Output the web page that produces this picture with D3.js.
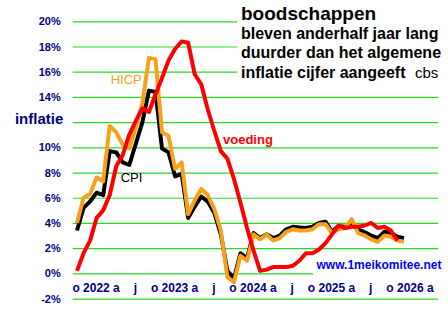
<!DOCTYPE html>
<html lang="nl">
<head>
    <meta charset="UTF-8">
    <title>Boodschappen inflatie</title>
    <script src="https://d3js.org/d3.v7.min.js"></script>
    <style>
        body { margin: 0; background: #fff; }
        text { font-family: "Liberation Sans", Arial, sans-serif; }
    </style>
</head>
<body>
    <div id="chart"></div>
</body>
</html>

<script>
    const width = 448, height = 314;

    // months on the x axis, okt 2021 .. jan 2026
    const months = [
        "2021-10","2021-11","2021-12",
        "2022-01","2022-02","2022-03","2022-04","2022-05","2022-06","2022-07","2022-08","2022-09","2022-10","2022-11","2022-12",
        "2023-01","2023-02","2023-03","2023-04","2023-05","2023-06","2023-07","2023-08","2023-09","2023-10","2023-11","2023-12",
        "2024-01","2024-02","2024-03","2024-04","2024-05","2024-06","2024-07","2024-08","2024-09","2024-10","2024-11","2024-12",
        "2025-01","2025-02","2025-03","2025-04","2025-05","2025-06","2025-07","2025-08","2025-09","2025-10","2025-11","2025-12",
        "2026-01"
    ];

    const cpi = [3.4, 5.2, 5.7, 6.4, 6.2, 9.7, 9.6, 8.8, 8.6, 10.3, 12.0, 14.5, 14.4, 9.9, 9.6,
        7.7, 7.9, 4.4, 5.3, 6.1, 5.7, 4.8, 3.1, 0.2, -0.4, 1.6, 1.2,
        3.2, 2.8, 3.1, 2.8, 3.0, 3.5, 3.7, 3.65, 3.6, 3.7, 4.0, 4.1,
        3.3, 3.75, 3.7, 3.9, 3.5, 3.25, 3.0, 2.8, 3.3, 3.2, 2.9, 2.8];

    const hicp = [4.0, 6.0, 6.3, 7.6, 7.3, 11.7, 11.2, 10.2, 9.9, 11.6, 13.5, 17.1, 17.0, 11.2, 10.9,
        8.3, 8.8, 4.7, 5.8, 6.7, 6.2, 5.1, 3.4, -0.3, -0.7, 1.4, 1.0,
        3.1, 2.7, 3.1, 2.6, 2.8, 3.3, 3.5, 3.4, 3.4, 3.5, 3.9, 3.9,
        3.2, 3.5, 3.6, 4.3, 3.2, 3.0, 2.7, 2.5, 3.0, 2.9, 2.6, 2.5];

    const voeding = [0.2, 1.6, 2.6, 4.4, 5.0, 6.2, 8.5, 9.4, 11.0, 12.1, 13.1, 12.8, 14.2, 15.5, 16.9,
        17.8, 18.4, 18.3, 15.8, 15.0, 13.0, 11.3, 9.7, 9.1, 7.5, 5.6, 3.6,
        1.8, 0.2, 0.3, 0.5, 0.5, 0.5, 0.6, 1.0, 1.6, 1.6, 1.9, 2.4,
        3.1, 3.8, 3.6, 3.7, 3.7, 3.8, 4.0, 3.6, 3.7, 3.4, 2.6];

    const yTicks = [-2, 0, 2, 4, 6, 8, 10, 12, 14, 16, 18, 20];
    const xTickMonths = ["2022-01","2022-07","2023-01","2023-07","2024-01","2024-07","2025-01","2025-07","2026-01"];
    const xTickLabels = ["o 2022 a","j","o 2023 a","j","o 2024 a","j","o 2025 a","j","o 2026 a"];
    const titleLines = ["bleven anderhalf jaar lang", "duurder dan het algemene", "inflatie cijfer aangeeft"];

    const navy = "#000080", green = "#22dd22";

    const svg = d3.select("#chart")
        .append("svg")
            .attr("width", width)
            .attr("height", height);

    svg.append("rect").attr("width", width).attr("height", height).attr("fill", "#fff");

    const xScale = d3.scalePoint()
        .domain(months)
        .range([77, 410.5]);

    const yScale = d3.scaleLinear()
        .domain([-2, 20])
        .range([298.6, 21.3]);

    const plotLeft = 72.7, plotRight = 438;

    // Y axis with green gridlines
    const yAxis = svg.append("g")
        .attr("transform", `translate(${plotLeft}, 0)`)
        .call(d3.axisLeft(yScale)
            .tickValues(yTicks)
            .tickSize(-(plotRight - plotLeft))
            .tickPadding(12)
            .tickFormat(d => d === 12 ? "" : d + "%"));
    yAxis.select(".domain").remove();
    yAxis.selectAll("line")
        .attr("stroke", green)
        .attr("stroke-width", 1.2);
    yAxis.selectAll("text")
        .attr("fill", navy)
        .style("font-size", "11px")
        .style("font-weight", "bold");

    // X axis labels (no line)
    const xAxis = svg.append("g")
        .attr("transform", `translate(-1, ${yScale(0)})`)
        .call(d3.axisBottom(xScale)
            .tickValues(xTickMonths)
            .tickSize(0)
            .tickPadding(10)
            .tickFormat((d, i) => xTickLabels[i]));
    xAxis.select(".domain").remove();
    xAxis.selectAll("text")
        .attr("fill", navy)
        .style("font-size", "12px")
        .style("font-weight", "bold");

    svg.append("text")
        .attr("x", 63.3)
        .attr("y", 124)
        .attr("text-anchor", "end")
        .attr("fill", navy)
        .style("font-size", "15px")
        .style("font-weight", "bold")
        .text("inflatie");

    // the three lines, drawn black, orange, red
    const line = d3.line()
        .x((d, i) => xScale(months[i]))
        .y(d => yScale(d));

    const series = [
        {values: cpi, color: "#000000"},
        {values: hicp, color: "#f7a11a"},
        {values: voeding, color: "#ff0000"}
    ];

    svg.selectAll("path.serie")
        .data(series)
        .join("path")
        .attr("class", "serie")
        .attr("d", d => line(d.values))
        .attr("fill", "none")
        .attr("stroke", d => d.color)
        .attr("stroke-width", 4)
        .attr("stroke-linejoin", "round");

    // series labels
    svg.append("text").attr("x", 110.7).attr("y", 84)
        .attr("fill", "#f7a11a").style("font-size", "13px").text("HICP");
    svg.append("text").attr("x", 120.7).attr("y", 182)
        .attr("fill", "#000").style("font-size", "13px").text("CPI");
    svg.append("text").attr("x", 223).attr("y", 144)
        .attr("fill", "#ff0000").style("font-size", "13px").style("font-weight", "bold").text("voeding");

    // title block on white
    svg.append("rect").attr("x", 237).attr("y", 0).attr("width", 211).attr("height", 85).attr("fill", "#fff");
    svg.append("text").attr("x", 241).attr("y", 19.5)
        .style("font-size", "19px").style("font-weight", "bold").text("boodschappen");
    svg.selectAll("text.title")
        .data(titleLines)
        .join("text")
        .attr("class", "title")
        .attr("x", 241)
        .attr("y", (d, i) => 39 + i * 19.3)
        .style("font-size", "16px")
        .style("font-weight", "bold")
        .text(d => d);
    svg.append("text").attr("x", 415).attr("y", 77.5)
        .style("font-size", "15px").text("cbs");

    // website
    svg.append("rect").attr("x", 313).attr("y", 255).attr("width", 135).attr("height", 24).attr("fill", "#fff");
    svg.append("text").attr("x", 316.5).attr("y", 269)
        .attr("fill", "#0000ff").style("font-size", "12px").style("font-weight", "bold")
        .text("www.1meikomitee.net");
</script>
